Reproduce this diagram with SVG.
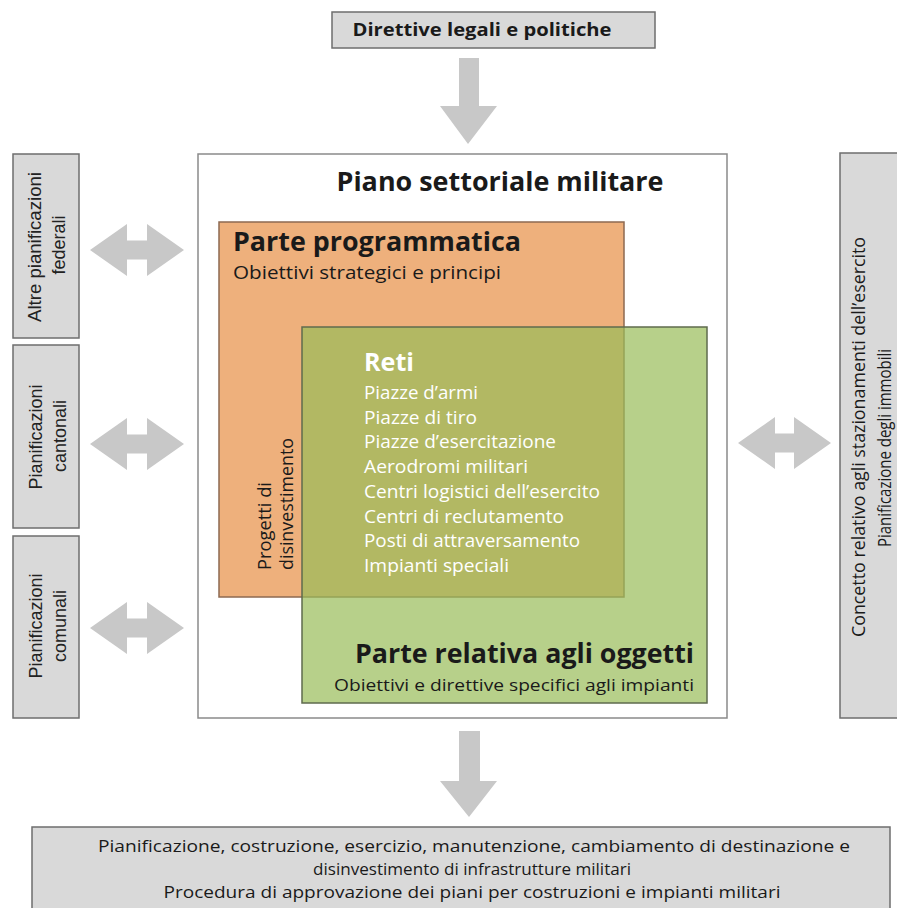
<svg xmlns="http://www.w3.org/2000/svg" width="897" height="908" viewBox="0 0 897 908">
<style>
.box{fill:#d9d9d9;stroke:#6e6e6e;stroke-width:1.5}
.arr{fill:#c8c8c8}
.cal{font-family:"Open Sans","Noto Sans","Liberation Sans",sans-serif;fill:#1a1a1a}
.ari{font-family:"Liberation Sans",Arial,sans-serif;fill:#222;font-size:18px}
.b{font-weight:bold}
.w{fill:#ffffff}
</style>
<rect width="897" height="908" fill="#ffffff"/>

<g id="connectors">
  <path class="arr" d="M459,58 L479,58 L479,106 L497,106 L468,144 L440,106 L459,106 Z"/>
  <path class="arr" d="M459,731 L480,731 L480,781 L497,781 L469,817 L440,781 L459,781 Z"/>
  <path class="arr" d="M90,250 L127,224 L127,240.5 L147,240.5 L147,224 L184,250 L147,276 L147,259.5 L127,259.5 L127,276 Z"/>
  <path class="arr" d="M90,444 L127,418 L127,434.5 L147,434.5 L147,418 L184,444 L147,470 L147,453.5 L127,453.5 L127,470 Z"/>
  <path class="arr" d="M90,628 L127,602 L127,618.5 L147,618.5 L147,602 L184,628 L147,654 L147,637.5 L127,637.5 L127,654 Z"/>
  <path class="arr" d="M738,443 L775,417 L775,433.5 L794,433.5 L794,417 L831,443 L794,469 L794,452.5 L775,452.5 L775,469 Z"/>
</g>

<g id="direttive">
  <rect class="box" x="332" y="12" width="323" height="36"/>
  <text class="cal b" x="482" y="36" font-size="18" text-anchor="middle" textLength="259" lengthAdjust="spacingAndGlyphs">Direttive legali e politiche</text>
</g>

<g id="altre-federali">
  <rect class="box" x="13" y="154" width="66" height="184"/>
  <text class="ari" transform="translate(41,247) rotate(-90)" text-anchor="middle" textLength="150" lengthAdjust="spacingAndGlyphs">Altre pianificazioni</text>
  <text class="ari" transform="translate(65,245) rotate(-90)" text-anchor="middle">federali</text>
</g>
<g id="cantonali">
  <rect class="box" x="13" y="345" width="66" height="183"/>
  <text class="ari" transform="translate(42,437) rotate(-90)" text-anchor="middle">Pianificazioni</text>
  <text class="ari" transform="translate(66,436) rotate(-90)" text-anchor="middle">cantonali</text>
</g>
<g id="comunali">
  <rect class="box" x="13" y="536" width="66" height="182"/>
  <text class="ari" transform="translate(42,626) rotate(-90)" text-anchor="middle">Pianificazioni</text>
  <text class="ari" transform="translate(66,626) rotate(-90)" text-anchor="middle">comunali</text>
</g>

<g id="stazionamenti">
  <rect class="box" x="840" y="153" width="70" height="565"/>
  <text class="cal" transform="translate(865,437) rotate(-90)" font-size="18" fill="#333" text-anchor="middle" textLength="400" lengthAdjust="spacingAndGlyphs">Concetto relativo agli stazionamenti dell’esercito</text>
  <text class="cal" transform="translate(891,448) rotate(-90)" font-size="18" fill="#333" text-anchor="middle" textLength="198" lengthAdjust="spacingAndGlyphs">Pianificazione degli immobili</text>
</g>

<g id="piano-settoriale">
  <rect x="198" y="154" width="529" height="564" fill="#ffffff" stroke="#8a8a8a" stroke-width="1.5"/>
  <text class="cal b" x="500" y="191" font-size="27" text-anchor="middle" textLength="327" lengthAdjust="spacingAndGlyphs">Piano settoriale militare</text>
</g>

<g id="parte-programmatica">
  <rect x="219" y="222" width="405" height="375" fill="#eeb07c" stroke="#8d6a52" stroke-width="1.5"/>
  <text class="cal b" x="233" y="251" font-size="27" textLength="288" lengthAdjust="spacingAndGlyphs">Parte programmatica</text>
  <text class="cal" x="233" y="279" font-size="18" textLength="268" lengthAdjust="spacingAndGlyphs">Obiettivi strategici e principi</text>
  <text class="cal" transform="translate(271,570) rotate(-90)" font-size="18" textLength="88" lengthAdjust="spacingAndGlyphs">Progetti di</text>
  <text class="cal" transform="translate(293,570) rotate(-90)" font-size="18" textLength="132" lengthAdjust="spacingAndGlyphs">disinvestimento</text>
</g>

<g id="parte-oggetti">
  <rect x="302" y="327" width="405" height="376" fill="#98bc58" fill-opacity="0.7" stroke="#5f6b4e" stroke-width="1.5"/>
  <text class="cal b" x="694" y="663" font-size="26" text-anchor="end" textLength="339" lengthAdjust="spacingAndGlyphs">Parte relativa agli oggetti</text>
  <text class="cal" x="694" y="691" font-size="16" text-anchor="end" textLength="360" lengthAdjust="spacingAndGlyphs">Obiettivi e direttive specifici agli impianti</text>
</g>

<g id="reti">
  <text class="cal b w" x="364" y="371" font-size="25" textLength="50" lengthAdjust="spacingAndGlyphs">Reti</text>
  <g class="cal w" font-size="18.5">
    <text class="w" x="364" y="399" textLength="114" lengthAdjust="spacingAndGlyphs">Piazze d’armi</text>
    <text class="w" x="364" y="423.7" textLength="113" lengthAdjust="spacingAndGlyphs">Piazze di tiro</text>
    <text class="w" x="364" y="448.4" textLength="192" lengthAdjust="spacingAndGlyphs">Piazze d’esercitazione</text>
    <text class="w" x="364" y="473.1" textLength="164" lengthAdjust="spacingAndGlyphs">Aerodromi militari</text>
    <text class="w" x="364" y="497.8" textLength="236" lengthAdjust="spacingAndGlyphs">Centri logistici dell’esercito</text>
    <text class="w" x="364" y="522.5" textLength="200" lengthAdjust="spacingAndGlyphs">Centri di reclutamento</text>
    <text class="w" x="364" y="547.2" textLength="216" lengthAdjust="spacingAndGlyphs">Posti di attraversamento</text>
    <text class="w" x="364" y="571.9" textLength="145" lengthAdjust="spacingAndGlyphs">Impianti speciali</text>
  </g>
</g>

<g id="pianificazione-costruzione">
  <rect class="box" x="32" y="827" width="858" height="90"/>
  <text class="cal" x="474" y="852" font-size="17" text-anchor="middle" textLength="752" lengthAdjust="spacingAndGlyphs">Pianificazione, costruzione, esercizio, manutenzione, cambiamento di destinazione e</text>
  <text class="cal" x="472" y="875" font-size="17" text-anchor="middle" textLength="318" lengthAdjust="spacingAndGlyphs">disinvestimento di infrastrutture militari</text>
  <text class="cal" x="472" y="898" font-size="17" text-anchor="middle" textLength="617" lengthAdjust="spacingAndGlyphs">Procedura di approvazione dei piani per costruzioni e impianti militari</text>
</g>
</svg>
